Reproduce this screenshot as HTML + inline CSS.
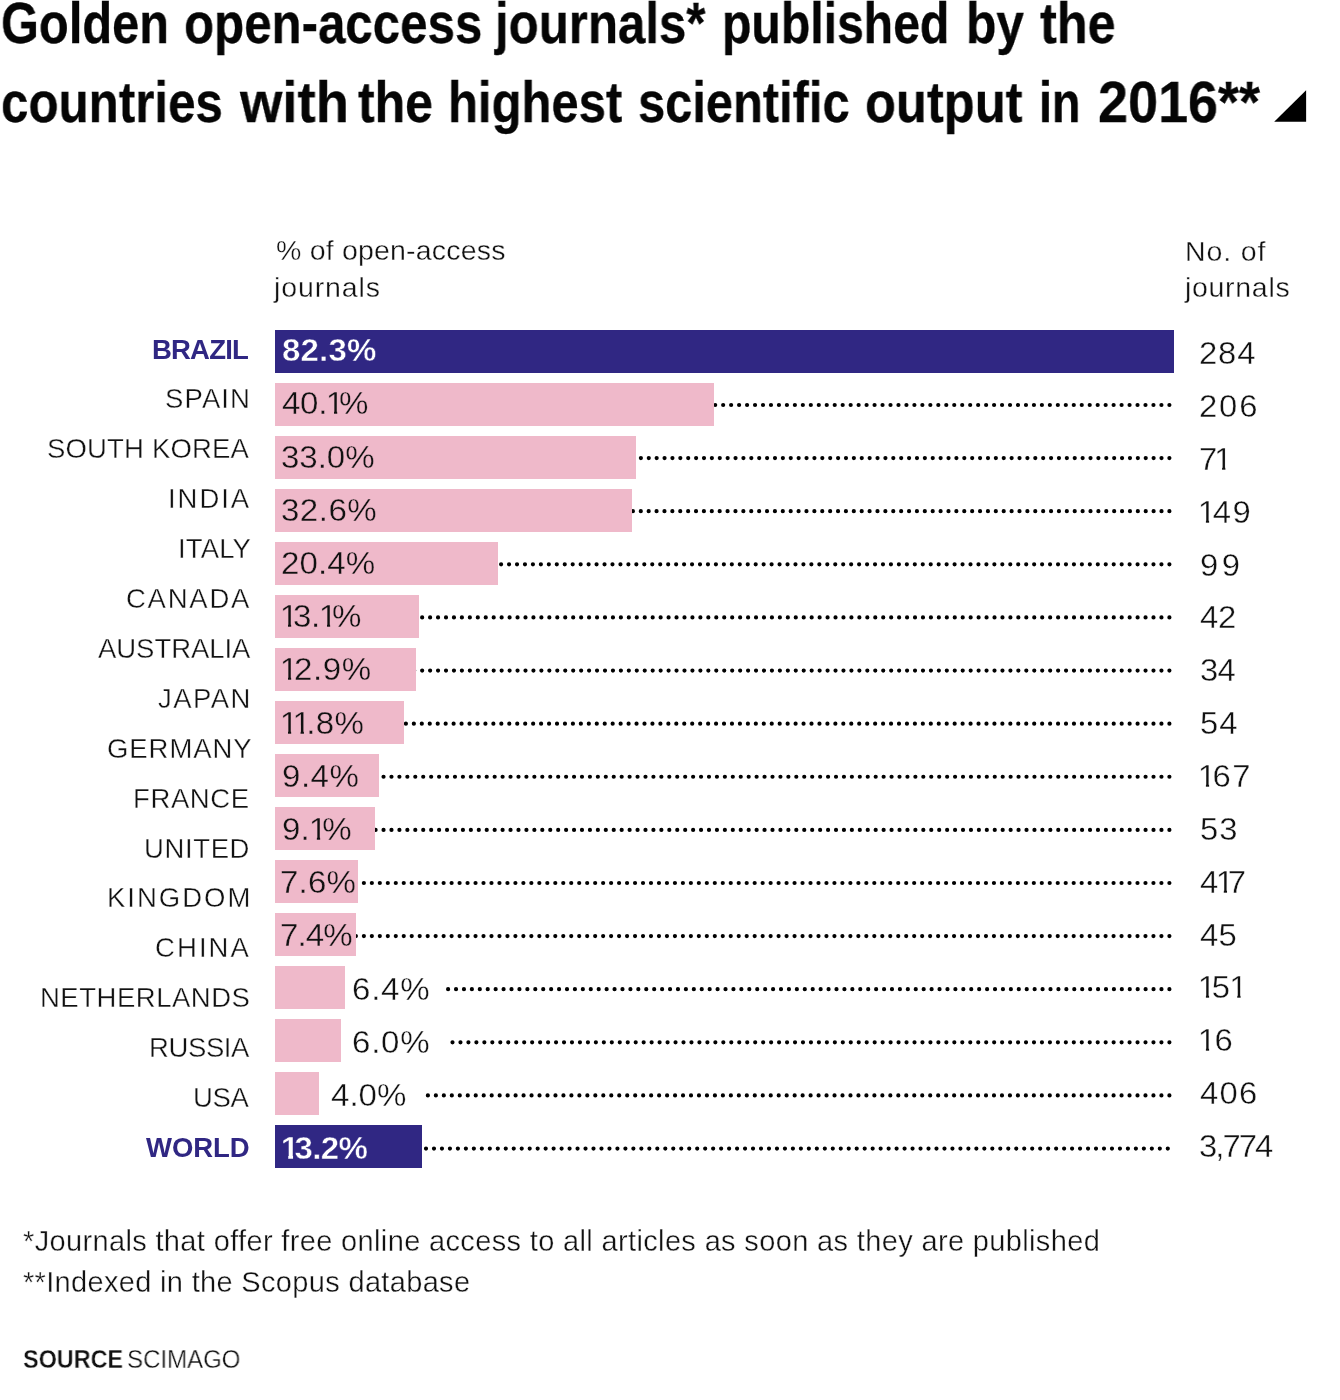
<!DOCTYPE html>
<html lang="en">
<head>
<meta charset="utf-8">
<title>Golden open-access journals</title>
<style>
html,body{margin:0;padding:0;background:#fff;}
body{width:1340px;height:1400px;position:relative;overflow:hidden;color:#0b0b0b;
 font-family:"Liberation Sans",sans-serif;}
.t{position:absolute;white-space:nowrap;line-height:1.2;margin:0;padding:0;will-change:transform;}
.title{font-weight:bold;color:#050505;}
.lab{color:#111;}
.hl{color:#302783;font-weight:bold;}
.bar{position:absolute;left:275px;height:43px;background:#EFB9CA;}
.bar.dk{background:#302783;}
.val{color:#111;}
.val.w{color:#fff;font-weight:bold;}
.num{color:#111;}
.hdr{color:#111;}
.note{color:#111;}
.src{color:#111;}
.src b{font-weight:bold;}
.title{-webkit-text-stroke:0.3px #050505;}
.lab,.num,.hdr,.note,.src,.val.o{-webkit-text-stroke:0.35px #fff;}
.val{-webkit-text-stroke:0.35px #EFB9CA;}
.val.w{-webkit-text-stroke:0.45px #302783;}
.hl{-webkit-text-stroke:0;}
.t i{font-style:normal;display:inline-block;line-height:1;margin:0 -0.150em 0 -0.036em;
 clip-path:polygon(0 0,0.346em 0,0.346em 1em,0.247em 1em,0.247em 0.55em,0 0.55em);}
.t.w i{margin:0 -0.120em 0 -0.01em;
 clip-path:polygon(0 0,0.376em 0,0.376em 1em,0.229em 1em,0.229em 0.55em,0 0.55em);}
svg{position:absolute;left:0;top:0;}
</style>
</head>
<body>

<main>
<header>
<h1 style="margin:0;font-size:inherit;font-weight:inherit">
<span class="t title" style="top:-11.15px;font-size:57px;left:1.12px;transform:scaleX(0.8561);transform-origin:0 0;">Golden </span>
<span class="t title" style="top:-11.15px;font-size:57px;left:184.10px;transform:scaleX(0.8636);transform-origin:0 0;">open-access </span>
<span class="t title" style="top:-11.15px;font-size:57px;left:495.20px;transform:scaleX(0.8626);transform-origin:0 0;">journals* </span>
<span class="t title" style="top:-11.15px;font-size:57px;left:722.29px;transform:scaleX(0.8447);transform-origin:0 0;">published </span>
<span class="t title" style="top:-11.15px;font-size:57px;left:965.52px;transform:scaleX(0.8718);transform-origin:0 0;">by </span>
<span class="t title" style="top:-11.15px;font-size:57px;left:1039.63px;transform:scaleX(0.8847);transform-origin:0 0;">the</span>
<span class="t title" style="top:68.25px;font-size:57px;left:1.10px;transform:scaleX(0.8647);transform-origin:0 0;">countries </span>
<span class="t title" style="top:68.25px;font-size:57px;left:240.20px;transform:scaleX(0.9551);transform-origin:0 0;">with </span>
<span class="t title" style="top:68.25px;font-size:57px;left:357.73px;transform:scaleX(0.8763);transform-origin:0 0;">the </span>
<span class="t title" style="top:68.25px;font-size:57px;left:448.05px;transform:scaleX(0.8595);transform-origin:0 0;">highest </span>
<span class="t title" style="top:68.25px;font-size:57px;left:637.92px;transform:scaleX(0.8562);transform-origin:0 0;">scientific </span>
<span class="t title" style="top:68.25px;font-size:57px;left:865.16px;transform:scaleX(0.8886);transform-origin:0 0;">output </span>
<span class="t title" style="top:68.25px;font-size:57px;left:1038.96px;transform:scaleX(0.8197);transform-origin:0 0;">in </span>
<span class="t title" style="top:68.25px;font-size:57px;left:1098.10px;transform:scaleX(0.9464);transform-origin:0 0;">2016**</span>
</h1>
</header>
<section class="chart">
<svg width="1340" height="1400" viewBox="0 0 1340 1400" aria-hidden="true">
<polygon points="1274.2,121.8 1306.1,121.8 1306.1,90.3" fill="#000"/>
<line x1="715.20" y1="405.00" x2="1169.41" y2="405.00" stroke="#000" stroke-width="4.2" stroke-linecap="round" stroke-dasharray="0 7.9684"/>
<line x1="633.00" y1="458.11" x2="1169.41" y2="458.11" stroke="#000" stroke-width="4.2" stroke-linecap="round" stroke-dasharray="0 7.8882"/>
<line x1="632.90" y1="511.22" x2="1169.41" y2="511.22" stroke="#000" stroke-width="4.2" stroke-linecap="round" stroke-dasharray="0 7.8897"/>
<line x1="501.10" y1="564.33" x2="1169.41" y2="564.33" stroke="#000" stroke-width="4.2" stroke-linecap="round" stroke-dasharray="0 7.9560"/>
<line x1="414.20" y1="617.44" x2="1169.41" y2="617.44" stroke="#000" stroke-width="4.2" stroke-linecap="round" stroke-dasharray="0 7.9495"/>
<line x1="414.20" y1="670.55" x2="1169.41" y2="670.55" stroke="#000" stroke-width="4.2" stroke-linecap="round" stroke-dasharray="0 7.9495"/>
<line x1="405.90" y1="723.66" x2="1169.41" y2="723.66" stroke="#000" stroke-width="4.2" stroke-linecap="round" stroke-dasharray="0 7.9531"/>
<line x1="375.60" y1="776.77" x2="1169.41" y2="776.77" stroke="#000" stroke-width="4.2" stroke-linecap="round" stroke-dasharray="0 7.9380"/>
<line x1="375.60" y1="829.88" x2="1169.41" y2="829.88" stroke="#000" stroke-width="4.2" stroke-linecap="round" stroke-dasharray="0 7.9380"/>
<line x1="355.90" y1="882.99" x2="1169.41" y2="882.99" stroke="#000" stroke-width="4.2" stroke-linecap="round" stroke-dasharray="0 7.9755"/>
<line x1="355.90" y1="936.10" x2="1169.41" y2="936.10" stroke="#000" stroke-width="4.2" stroke-linecap="round" stroke-dasharray="0 7.9755"/>
<line x1="448.10" y1="989.21" x2="1169.41" y2="989.21" stroke="#000" stroke-width="4.2" stroke-linecap="round" stroke-dasharray="0 7.9264"/>
<line x1="452.50" y1="1042.32" x2="1169.41" y2="1042.32" stroke="#000" stroke-width="4.2" stroke-linecap="round" stroke-dasharray="0 7.9656"/>
<line x1="427.90" y1="1095.43" x2="1169.41" y2="1095.43" stroke="#000" stroke-width="4.2" stroke-linecap="round" stroke-dasharray="0 7.9731"/>
<line x1="426.00" y1="1148.54" x2="1167.81" y2="1148.54" stroke="#000" stroke-width="4.2" stroke-linecap="round" stroke-dasharray="0 7.9763"/>
</svg>
<div class="t hdr" style="top:233.32px;font-size:28.5px;left:275.50px;letter-spacing:0.194px;">% of open-access</div>
<div class="t hdr" style="top:270.32px;font-size:28.5px;left:273.50px;letter-spacing:0.879px;">journals</div>
<div class="t hdr" style="top:233.62px;font-size:28.5px;left:1184.50px;letter-spacing:0.88px;">No. of</div>
<div class="t hdr" style="top:270.42px;font-size:28.5px;left:1184.90px;letter-spacing:0.696px;">journals</div>
<div class="t lab hl" style="top:332.57px;font-size:27.5px;right:1090.86px;letter-spacing:-0.8px;margin-right:0.8px;">BRAZIL</div>
<div class="t lab" style="top:382.47px;font-size:27.5px;right:1089.66px;letter-spacing:1.12px;margin-right:-1.12px;">SPAIN</div>
<div class="t lab" style="top:432.37px;font-size:27.5px;right:1090.86px;letter-spacing:0.168px;margin-right:-0.168px;">SOUTH KOREA</div>
<div class="t lab" style="top:482.27px;font-size:27.5px;right:1090.86px;letter-spacing:1.94px;margin-right:-1.94px;">INDIA</div>
<div class="t lab" style="top:532.17px;font-size:27.5px;right:1089.34px;letter-spacing:0.14px;margin-right:-0.14px;">ITALY</div>
<div class="t lab" style="top:582.07px;font-size:27.5px;right:1090.86px;letter-spacing:1.76px;margin-right:-1.76px;">CANADA</div>
<div class="t lab" style="top:631.97px;font-size:27.5px;right:1090.06px;letter-spacing:-0.05px;margin-right:0.05px;">AUSTRALIA</div>
<div class="t lab" style="top:681.87px;font-size:27.5px;right:1089.66px;letter-spacing:1.44px;margin-right:-1.44px;">JAPAN</div>
<div class="t lab" style="top:731.77px;font-size:27.5px;right:1088.30px;letter-spacing:0.934px;margin-right:-0.934px;">GERMANY</div>
<div class="t lab" style="top:781.67px;font-size:27.5px;right:1090.46px;letter-spacing:0.624px;margin-right:-0.624px;">FRANCE</div>
<div class="t lab" style="top:831.57px;font-size:27.5px;right:1090.46px;letter-spacing:0.624px;margin-right:-0.624px;">UNITED</div>
<div class="t lab" style="top:881.47px;font-size:27.5px;right:1089.66px;letter-spacing:1.999px;margin-right:-1.999px;">KINGDOM</div>
<div class="t lab" style="top:931.37px;font-size:27.5px;right:1090.86px;letter-spacing:2.08px;margin-right:-2.08px;">CHINA</div>
<div class="t lab" style="top:981.27px;font-size:27.5px;right:1090.06px;letter-spacing:0.512px;margin-right:-0.512px;">NETHERLANDS</div>
<div class="t lab" style="top:1031.17px;font-size:27.5px;right:1090.06px;letter-spacing:-0.384px;margin-right:0.384px;">RUSSIA</div>
<div class="t lab" style="top:1081.07px;font-size:27.5px;right:1090.86px;letter-spacing:-0.32px;margin-right:0.32px;">USA</div>
<div class="t lab hl" style="top:1130.97px;font-size:27.5px;right:1090.70px;letter-spacing:-0.06px;margin-right:0.06px;">WORLD</div>
<div class="bar dk" style="top:330px;width:898.8px"></div>
<div class="t val w" style="top:332.19px;font-size:31.5px;left:282.32px;letter-spacing:0.148px;transform:scaleX(1.05);transform-origin:0 0;">82.3%</div>
<div class="t num" style="top:335.02px;font-size:31.25px;left:1199.20px;letter-spacing:0.833px;transform:scaleX(1.05);transform-origin:0 0;">284</div>
<div class="bar" style="top:383px;width:438.6px"></div>
<div class="t val" style="top:385.39px;font-size:31.5px;left:281.84px;letter-spacing:-0.305px;transform:scaleX(1.05);transform-origin:0 0;">40.<i>1</i>%</div>
<div class="t num" style="top:387.89px;font-size:31.25px;left:1199.20px;letter-spacing:1.751px;transform:scaleX(1.05);transform-origin:0 0;">206</div>
<div class="bar" style="top:436px;width:361.0px"></div>
<div class="t val" style="top:438.59px;font-size:31.5px;left:281.20px;letter-spacing:-0.038px;transform:scaleX(1.05);transform-origin:0 0;">33.0%</div>
<div class="t num" style="top:440.76px;font-size:31.25px;left:1198.56px;letter-spacing:-2.0px;transform:scaleX(1.05);transform-origin:0 0;">7<i>1</i></div>
<div class="bar" style="top:489px;width:356.6px"></div>
<div class="t val" style="top:491.79px;font-size:31.5px;left:281.04px;letter-spacing:0.457px;transform:scaleX(1.05);transform-origin:0 0;">32.6%</div>
<div class="t num" style="top:493.63px;font-size:31.25px;left:1198.56px;letter-spacing:1.443px;transform:scaleX(1.05);transform-origin:0 0;"><i>1</i>49</div>
<div class="bar" style="top:542px;width:223.4px"></div>
<div class="t val" style="top:544.99px;font-size:31.5px;left:281.04px;letter-spacing:0.114px;transform:scaleX(1.05);transform-origin:0 0;">20.4%</div>
<div class="t num" style="top:546.50px;font-size:31.25px;left:1199.84px;letter-spacing:3.356px;transform:scaleX(1.05);transform-origin:0 0;">99</div>
<div class="bar" style="top:595px;width:143.6px"></div>
<div class="t val" style="top:598.19px;font-size:31.5px;left:280.72px;letter-spacing:-0.267px;transform:scaleX(1.05);transform-origin:0 0;"><i>1</i>3.<i>1</i>%</div>
<div class="t num" style="top:599.37px;font-size:31.25px;left:1200.00px;letter-spacing:-0.146px;transform:scaleX(1.05);transform-origin:0 0;">42</div>
<div class="bar" style="top:648px;width:141.3px"></div>
<div class="t val" style="top:651.39px;font-size:31.5px;left:280.72px;letter-spacing:0.609px;transform:scaleX(1.05);transform-origin:0 0;"><i>1</i>2.9%</div>
<div class="t num" style="top:652.24px;font-size:31.25px;left:1199.60px;letter-spacing:-0.616px;transform:scaleX(1.05);transform-origin:0 0;">34</div>
<div class="bar" style="top:701px;width:129.4px"></div>
<div class="t val" style="top:704.59px;font-size:31.5px;left:280.72px;letter-spacing:0.342px;transform:scaleX(1.05);transform-origin:0 0;"><i>1</i><i>1</i>.8%</div>
<div class="t num" style="top:705.11px;font-size:31.25px;left:1199.84px;letter-spacing:1.07px;transform:scaleX(1.05);transform-origin:0 0;">54</div>
<div class="bar" style="top:754px;width:104.0px"></div>
<div class="t val" style="top:757.79px;font-size:31.5px;left:281.52px;letter-spacing:0.47px;transform:scaleX(1.05);transform-origin:0 0;">9.4%</div>
<div class="t num" style="top:757.98px;font-size:31.25px;left:1198.56px;letter-spacing:1.37px;transform:scaleX(1.05);transform-origin:0 0;"><i>1</i>67</div>
<div class="bar" style="top:807px;width:99.9px"></div>
<div class="t val" style="top:810.99px;font-size:31.5px;left:281.52px;letter-spacing:0.146px;transform:scaleX(1.05);transform-origin:0 0;">9.<i>1</i>%</div>
<div class="t num" style="top:810.85px;font-size:31.25px;left:1199.84px;letter-spacing:1.07px;transform:scaleX(1.05);transform-origin:0 0;">53</div>
<div class="bar" style="top:860px;width:83.3px"></div>
<div class="t val" style="top:864.19px;font-size:31.5px;left:280.48px;letter-spacing:0.146px;transform:scaleX(1.05);transform-origin:0 0;">7.6%</div>
<div class="t num" style="top:863.72px;font-size:31.25px;left:1200.00px;letter-spacing:-1.297px;transform:scaleX(1.05);transform-origin:0 0;">4<i>1</i>7</div>
<div class="bar" style="top:913px;width:81.2px"></div>
<div class="t val" style="top:917.39px;font-size:31.5px;left:280.48px;letter-spacing:-0.87px;transform:scaleX(1.05);transform-origin:0 0;">7.4%</div>
<div class="t num" style="top:916.59px;font-size:31.25px;left:1200.00px;letter-spacing:0.308px;transform:scaleX(1.05);transform-origin:0 0;">45</div>
<div class="bar" style="top:966px;width:70.3px"></div>
<div class="t val o" style="top:970.59px;font-size:31.5px;left:352.40px;letter-spacing:0.724px;transform:scaleX(1.05);transform-origin:0 0;">6.4%</div>
<div class="t num" style="top:969.46px;font-size:31.25px;left:1198.88px;letter-spacing:0.462px;transform:scaleX(1.05);transform-origin:0 0;"><i>1</i>5<i>1</i></div>
<div class="bar" style="top:1019px;width:65.7px"></div>
<div class="t val o" style="top:1023.79px;font-size:31.5px;left:352.40px;letter-spacing:0.724px;transform:scaleX(1.05);transform-origin:0 0;">6.0%</div>
<div class="t num" style="top:1022.33px;font-size:31.25px;left:1198.88px;letter-spacing:3.194px;transform:scaleX(1.05);transform-origin:0 0;"><i>1</i>6</div>
<div class="bar" style="top:1072px;width:43.9px"></div>
<div class="t val o" style="top:1076.99px;font-size:31.5px;left:331.20px;transform:scaleX(1.05);transform-origin:0 0;">4.0%</div>
<div class="t num" style="top:1075.20px;font-size:31.25px;left:1200.08px;letter-spacing:1.224px;transform:scaleX(1.05);transform-origin:0 0;">406</div>
<div class="bar dk" style="top:1125px;width:146.8px"></div>
<div class="t val w" style="top:1130.19px;font-size:31.5px;left:280.88px;letter-spacing:-0.609px;transform:scaleX(1.05);transform-origin:0 0;"><i>1</i>3.2%</div>
<div class="t num" style="top:1128.07px;font-size:31.25px;left:1199.28px;letter-spacing:-1.867px;transform:scaleX(1.05);transform-origin:0 0;">3,774</div>
</section>
<footer>
<div class="t note" style="top:1224.35px;font-size:29px;left:23.30px;letter-spacing:0.351px;">*Journals that offer free online access to all articles as soon as they are published</div>
<div class="t note" style="top:1264.55px;font-size:29px;left:23.30px;letter-spacing:0.326px;">**Indexed in the Scopus database</div>
<div class="t src" style="top:1343.94px;font-size:25px;left:23.30px;transform:scaleX(0.93609);transform-origin:0 0;"><b>SOURCE</b></div>
<div class="t src" style="top:1343.94px;font-size:25px;left:127.40px;transform:scaleX(0.96108);transform-origin:0 0;">SCIMAGO</div>
</footer>
</main>
</body>
</html>
